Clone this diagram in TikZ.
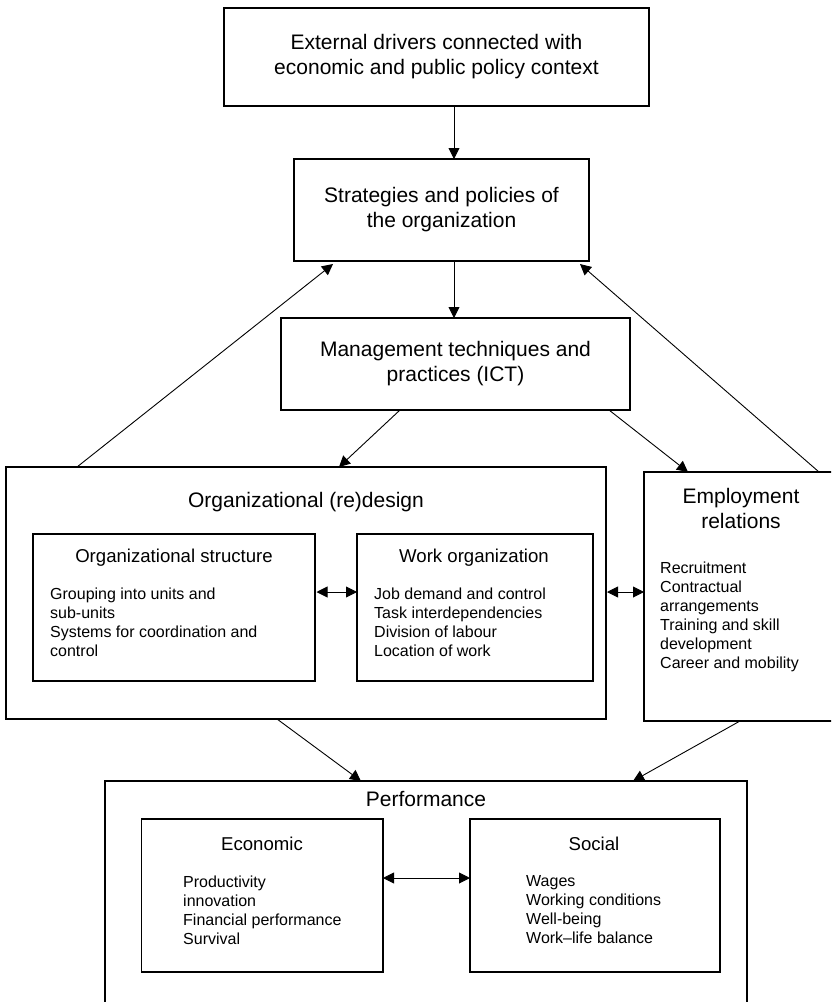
\documentclass[tikz,border=0pt]{standalone}
\usepackage{fontspec}
\setmainfont{Liberation Sans}
\usetikzlibrary{arrows.meta}
\tikzset{
  bx/.style={draw, line width=1.2pt, rectangle, inner sep=0pt, outer sep=0pt},
  big/.style={font=\fontsize{21}{25}\selectfont},
  mid/.style={font=\fontsize{18.6}{22}\selectfont},
  small/.style={font=\fontsize{16}{19}\selectfont},
  lst/.style={small, align=left, anchor=north west, inner sep=0pt},
  ttl/.style={anchor=base, inner sep=0pt},
  arr/.style={line width=0.9pt, -{Triangle[length=11pt,width=11pt]}},
  darr/.style={line width=0.9pt, {Triangle[length=11pt,width=11pt]}-{Triangle[length=11pt,width=11pt]}},
}
\begin{document}
\begin{tikzpicture}[x=1pt,y=-1pt]
\useasboundingbox (0,0) rectangle (831,1002);
\clip (0,0) rectangle (831,1002);
% boxes
\node[bx, big, align=center, minimum width=425pt, minimum height=98pt] (box1) at (436.5,57)
  {External drivers connected with\\economic and public policy context};
\node[bx, big, align=center, minimum width=295pt, minimum height=102pt] (box2) at (441.5,210)
  {Strategies and policies of\\the organization};
\node[bx, big, align=center, minimum width=349pt, minimum height=92pt] (box3) at (455.5,364)
  {Management techniques and\\practices (ICT)};
\node[bx, minimum width=600pt, minimum height=252pt] (org) at (306,593) {};
\node[bx, minimum width=282pt, minimum height=147pt] (os) at (174,607.5) {};
\node[bx, minimum width=236pt, minimum height=147pt] (wo) at (475,607.5) {};
\node[bx, minimum width=196pt, minimum height=249pt] (emp) at (742,596.5) {};
\node[bx, minimum width=642pt, minimum height=231pt] (perf) at (426,896.5) {};
\node[bx, minimum width=241.5pt, minimum height=153pt] (econ) at (262.25,895.5) {};
\node[bx, minimum width=250pt, minimum height=153pt] (soc) at (595,895.5) {};
% titles
\node[ttl, big] (orgT) at (306,507) {Organizational (re)design};
\node[big, align=center, anchor=north, inner sep=0pt] (empT) at (741,487.7) {Employment\\relations};
\node[ttl, mid] (osT) at (174,562) {Organizational structure};
\node[ttl, mid] (woT) at (474,562) {Work organization};
\node[ttl, big] (perfT) at (426,806) {Performance};
\node[ttl, mid] (econT) at (262,850) {Economic};
\node[ttl, mid] (socT) at (594,850) {Social};
% lists
\node[lst] (osL) at (50,587.3) {Grouping into units and\\sub-units\\Systems for coordination and\\control};
\node[lst] (woL) at (374,587.3) {Job demand and control\\Task interdependencies\\Division of labour\\Location of work};
\node[lst] (empL) at (660,561.6) {Recruitment\\Contractual\\arrangements\\Training and skill\\development\\Career and mobility};
\node[lst] (econL) at (183,875.3) {Productivity\\innovation\\Financial performance\\Survival};
\node[lst] (socL) at (526,875.3) {Wages\\Working conditions\\Well-being\\Work--life balance};
% arrows
\draw[arr] ([xshift=17.5pt]box1.south) -- ([xshift=12.5pt]box2.north);
\draw[arr] ([xshift=12.5pt]box2.south) -- ([xshift=-1.5pt]box3.north);
\draw[arr] ([xshift=119pt]box3.south west) -- ([xshift=333pt]org.north west);
\draw[arr] ([xshift=-21pt]box3.south east) -- ([xshift=44pt]emp.north west);
\draw[arr] ([xshift=71pt]org.north west) -- ([xshift=39pt,yshift=-3pt]box2.south west);
\draw[arr] ([xshift=175pt]emp.north west) -- ([xshift=-9pt,yshift=-3pt]box2.south east);
\draw[arr] ([xshift=271pt]org.south west) -- ([xshift=256pt]perf.north west);
\draw[arr] ([xshift=96pt]emp.south west) -- ([xshift=528pt]perf.north west);
\draw[darr] ([xshift=1.5pt,yshift=15.5pt]os.east) -- ([yshift=15.5pt]wo.west);
\draw[darr] ([xshift=1pt,yshift=1pt]org.east) -- ([yshift=4.5pt]emp.west);
\draw[darr] ([yshift=17.5pt]econ.east) -- ([yshift=17.5pt]soc.west);
\end{tikzpicture}
\end{document}
